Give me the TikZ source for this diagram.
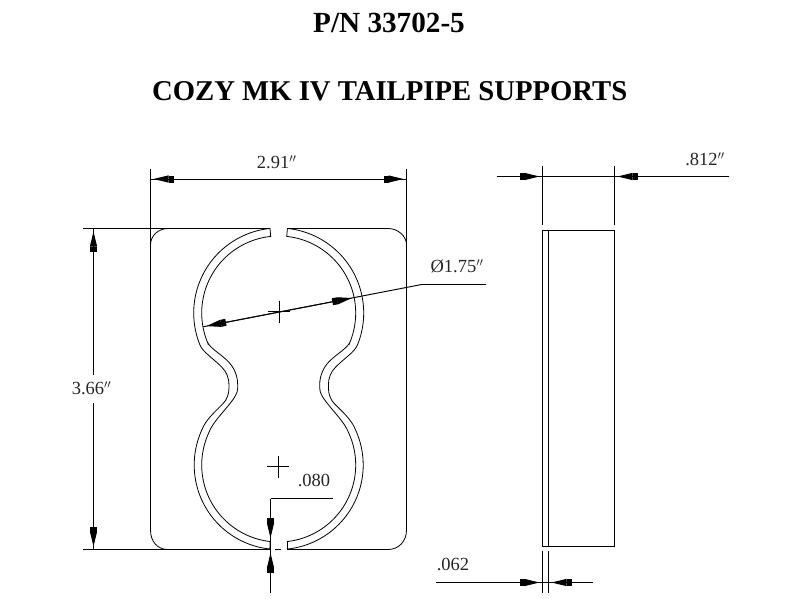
\documentclass[tikz,border=0pt]{standalone}
\usepackage{fontspec}
\setmainfont{Liberation Serif}
\usetikzlibrary{arrows.meta}
\tikzset{
  x=1pt,y=-1pt,
  ln/.style={line width=0.95pt,black},
  tubeline/.style={line width=0.8pt,black},
  dimtip/.tip={Rectangle[length=5pt,width=7pt] Triangle[length=15pt,width=7pt]},
  endtip/.style={postaction={draw,-{dimtip},shorten >=3pt}},
  bothtip/.style={postaction={draw,{dimtip}-{dimtip},shorten >=3pt,shorten <=3pt}},
  dimtxt/.style={inner sep=0pt,font=\fontsize{18.5}{18.5}\selectfont,text=black!85},
  titletxt/.style={inner sep=0pt,font=\fontsize{#1}{#1}\selectfont\bfseries}
}
\newcommand{\tubehalf}{%
  \draw[tubeline] (-8.7,228.5)
    -- plot[domain=263.9:158,samples=50] ({85*cos(\x)},{313+85*sin(\x)})
    .. controls (-76,352) and (-66,358) .. (-57,367)
    .. controls (-52,372) and (-49.7,378) .. (-49.7,385)
    -- (-49.7,388)
    .. controls (-49.7,394) and (-52,400) .. (-55.4,403.3)
    .. controls (-64,412) and (-73,420) .. (-76.6,429.3)
    -- plot[domain=205:96,samples=50] ({84.5*cos(\x)},{465+84.5*sin(\x)})
    -- (-8.7,542)
    -- plot[domain=96.5:205,samples=50] ({77*cos(\x)},{465+77*sin(\x)})
    .. controls (-66.2,423) and (-57,414) .. (-48.3,403)
    .. controls (-44,397.5) and (-41,393) .. (-41,388)
    -- (-41,385)
    .. controls (-41,375) and (-45,367) .. (-51,361)
    .. controls (-58,354) and (-69,348) .. (-71.4,341.8)
    -- plot[domain=158:264,samples=50] ({77*cos(\x)},{313+77*sin(\x)})
    -- cycle;
}
\begin{document}
\begin{tikzpicture}
\useasboundingbox (0,0) rectangle (800,599);
\fill[white] (0,0) rectangle (800,599);
% titles
\node[titletxt=29.2] (t1) at (389,23) {P/N 33702-5};
\node[titletxt=28.7] (t2) at (389.7,91) {COZY MK IV TAILPIPE SUPPORTS};
% plate outline
\draw[ln] (150.5,169) -- (150.5,245);
\draw[tubeline] (150.5,245) -- (150.5,530) .. controls (150.5,541) and (157,549.5) .. (168,549.5);
\draw[ln] (406.5,169) -- (406.5,245);
\draw[tubeline] (406.5,245) -- (406.5,530) .. controls (406.5,541) and (399,549.5) .. (388,549.5);
\draw[tubeline] (150.5,245) .. controls (150.5,236) and (158,228.5) .. (168,228.5);
\draw[tubeline] (406.5,245) .. controls (406.5,236) and (398,228.5) .. (388,228.5);
\draw[ln] (83,228.5) -- (270,228.5);
\draw[ln] (287,228.5) -- (388,228.5);
\draw[ln] (83,549.5) -- (270,549.5);
\draw[ln] (275,549.5) -- (281,549.5);
\draw[ln] (287,549.5) -- (388,549.5);
% tube
\begin{scope}[shift={(278.7,0)}]\tubehalf\end{scope}
\begin{scope}[shift={(278.7,0)},xscale=-1]\tubehalf\end{scope}
% centre marks
\draw[ln] (268,311.5) -- (290,311.5) (279.5,300.5) -- (279.5,322.5);
\draw[ln] (267,466.5) -- (289,466.5) (278.5,456) -- (278.5,478);
% 2.91
\coordinate (wa) at (150.5,179);
\coordinate (wb) at (406.5,179);
\draw[ln,bothtip] (wa) -- (wb);
\node[dimtxt] (w) at (276.7,162.5) {2.91$''$};
% 3.66
\coordinate (ha) at (93.5,228.5);
\coordinate (hb) at (93.5,549.5);
\coordinate (hc) at (93.5,375);
\coordinate (hd) at (93.5,403);
\draw[ln,endtip] (hc) -- (ha);
\draw[ln,endtip] (hd) -- (hb);
\node[dimtxt] (h) at (91.5,388) {3.66$''$};
% diameter
\coordinate (da) at (203.3,326.7);
\coordinate (db) at (355,297.4);
\coordinate (dc) at (421.7,284.5);
\coordinate (dd) at (486,284.5);
\draw[ln,bothtip] (da) -- (db);
\draw[ln] (db) -- (dc) -- (dd);
\node[dimtxt] (d) at (457,266.5) {Ø1.75$''$};
% .080
\coordinate (ga) at (332.7,498.5);
\coordinate (gb) at (270.5,498.5);
\coordinate (gc) at (270.5,541);
\coordinate (gd) at (270.5,550);
\coordinate (ge) at (270.5,593);
\draw[ln] (ga) -- (gb);
\draw[ln,endtip] (gb) -- (gc);
\draw[ln] (gc) -- (gd);
\draw[ln,endtip] (ge) -- (gd);
\node[dimtxt] (g) at (314,480) {.080};
% side view
\draw[ln] (542.5,230.5) rectangle (614.5,546);
\draw[ln] (548.5,230.5) -- (548.5,546);
% .812
\coordinate (ea) at (497.3,176.5);
\coordinate (eb) at (542.5,176.5);
\coordinate (ec) at (614.5,176.5);
\coordinate (ed) at (729,176.5);
\draw[ln,endtip] (ea) -- (eb);
\draw[ln] (eb) -- (ec);
\draw[ln,endtip] (ed) -- (ec);
\draw[ln] (542.5,166) -- (542.5,225) (614.5,166) -- (614.5,225);
\node[dimtxt] (e) at (705,159) {.812$''$};
% .062
\coordinate (fa) at (436,582.5);
\coordinate (fb) at (542.5,582.5);
\coordinate (fc) at (548.5,582.5);
\coordinate (fd) at (593,582.5);
\draw[ln,endtip] (fa) -- (fb);
\draw[ln,endtip] (fd) -- (fc);
\draw[ln] (fb) -- (fc);
\draw[ln] (542.5,551) -- (542.5,593) (548.5,551) -- (548.5,593);
\node[dimtxt] (f) at (453,564) {.062};
\end{tikzpicture}
\end{document}
